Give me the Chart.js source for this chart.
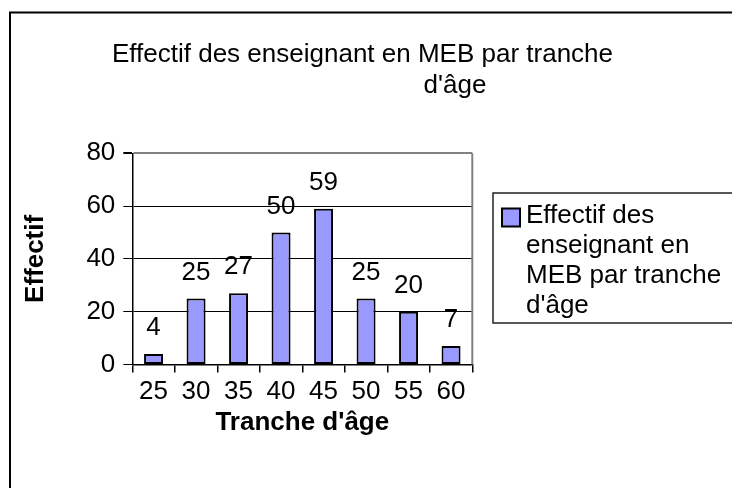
<!DOCTYPE html>
<html><head><meta charset="utf-8">
<script src="https://cdn.jsdelivr.net/npm/chart.js@4.4.1/dist/chart.umd.min.js"></script>
<style>html,body{margin:0;padding:0;background:#fff;overflow:hidden}#wrap{position:relative;width:732px;height:488px}</style>
</head><body><div id="wrap"><canvas id="c" width="732" height="488"></canvas></div>
<script>
const categories = ['25','30','35','40','45','50','55','60'];
const effectif = [4, 25, 27, 50, 59, 25, 20, 7];
const yTicks = [0, 20, 40, 60, 80];
const seriesLabel = "Effectif des enseignant en MEB par tranche d'âge";
const titleLines = ["Effectif des enseignant en MEB par tranche", "d'âge"];
const xTitle = "Tranche d'âge";
const yTitle = "Effectif";

const FAM = '"Liberation Sans", Arial, sans-serif';
const FS = 26;

const decor = {
  id: 'decor',
  beforeDraw(chart) {
    const ctx = chart.ctx;
    ctx.save();
    ctx.fillStyle = '#fff';
    ctx.fillRect(0, 0, chart.width, chart.height);
    ctx.strokeStyle = '#000';
    ctx.lineWidth = 2;
    ctx.strokeRect(10, 12.5, 800, 600);
    ctx.restore();
  },
  afterDatasetsDraw(chart) {
    const ctx = chart.ctx;
    const a = chart.chartArea;
    ctx.save();
    ctx.strokeStyle = '#808080';
    ctx.lineWidth = 2;
    ctx.beginPath();
    ctx.moveTo(a.right, a.top);
    ctx.lineTo(a.right, a.bottom);
    ctx.stroke();
    ctx.fillStyle = '#000';
    ctx.font = FS + 'px ' + FAM;
    ctx.textAlign = 'center';
    ctx.textBaseline = 'alphabetic';
    const meta = chart.getDatasetMeta(0);
    meta.data.forEach((bar, i) => {
      ctx.fillText(String(chart.data.datasets[0].data[i]), bar.x, bar.y - 19);
    });
    ctx.restore();
  },
  afterDraw(chart) {
    const ctx = chart.ctx;
    ctx.save();
    ctx.fillStyle = '#000';
    ctx.font = FS + 'px ' + FAM;
    ctx.textBaseline = 'alphabetic';
    ctx.textAlign = 'center';
    ctx.fillText(titleLines[0], 362.5, 61.5);
    ctx.fillText(titleLines[1], 455, 93);
    const ds = chart.data.datasets[0];
    ctx.strokeStyle = '#222';
    ctx.lineWidth = 1.5;
    ctx.strokeRect(493, 193, 400, 130);
    ctx.fillStyle = ds.backgroundColor;
    ctx.fillRect(502, 208.5, 18, 18);
    ctx.strokeStyle = '#000';
    ctx.lineWidth = 2;
    ctx.strokeRect(502, 208.5, 18, 18);
    ctx.fillStyle = '#000';
    ctx.textAlign = 'left';
    const words = ds.label.split(' ');
    const lines = [];
    let cur = '';
    words.forEach(w => {
      const t = cur ? cur + ' ' + w : w;
      if (ctx.measureText(t).width > 205 && cur) { lines.push(cur); cur = w; } else { cur = t; }
    });
    if (cur) lines.push(cur);
    lines.forEach((l, i) => ctx.fillText(l, 526, 223 + i * 30));
    ctx.restore();
  }
};

new Chart(document.getElementById('c'), {
  type: 'bar',
  data: {
    labels: categories,
    datasets: [{
      label: seriesLabel,
      data: effectif,
      backgroundColor: '#9999FF',
      borderColor: '#000',
      borderWidth: 2,
      borderSkipped: false,
      barPercentage: 0.447,
      categoryPercentage: 1
    }]
  },
  options: {
    responsive: false,
    animation: false,
    devicePixelRatio: 1,
    layout: { padding: { left: 0, top: 153.3, right: 259.7, bottom: 49.4 } },
    plugins: { legend: { display: false }, title: { display: false }, tooltip: { enabled: false } },
    scales: {
      x: {
        offset: true,
        grid: { offset: true, drawOnChartArea: false, drawTicks: true, tickLength: 8, tickColor: '#000', lineWidth: 1.5 },
        border: { display: true, color: '#000', width: 1.5 },
        ticks: { color: '#000', font: { family: FAM, size: FS, lineHeight: 1.2 }, padding: 4, maxRotation: 0, autoSkip: false },
        title: { display: true, text: xTitle, color: '#000', font: { family: FAM, size: FS, weight: 'bold', lineHeight: 1.2 }, padding: 0 },
        afterFit: s => { s.height = 74.1; }
      },
      y: {
        min: 0, max: 80,
        afterBuildTicks: s => { s.ticks = yTicks.map(v => ({ value: v })); },
        ticks: { color: '#000', font: { family: FAM, size: FS, lineHeight: 1.2 }, padding: 8 },
        grid: {
          color: c => (c.tick && c.tick.value === 80) ? '#808080' : '#000',
          lineWidth: c => (c.tick && c.tick.value === 80) ? 2 : 1,
          tickColor: '#000', tickLength: 9
        },
        border: { display: true, color: '#000', width: 1.5 },
        title: { display: true, text: yTitle, color: '#000', font: { family: FAM, size: FS, weight: 'bold', lineHeight: 1.2 }, padding: { top: 20, bottom: 0 } },
        afterFit: s => { s.width = 132.3; }
      }
    }
  },
  plugins: [decor]
});
</script>
</body></html>
